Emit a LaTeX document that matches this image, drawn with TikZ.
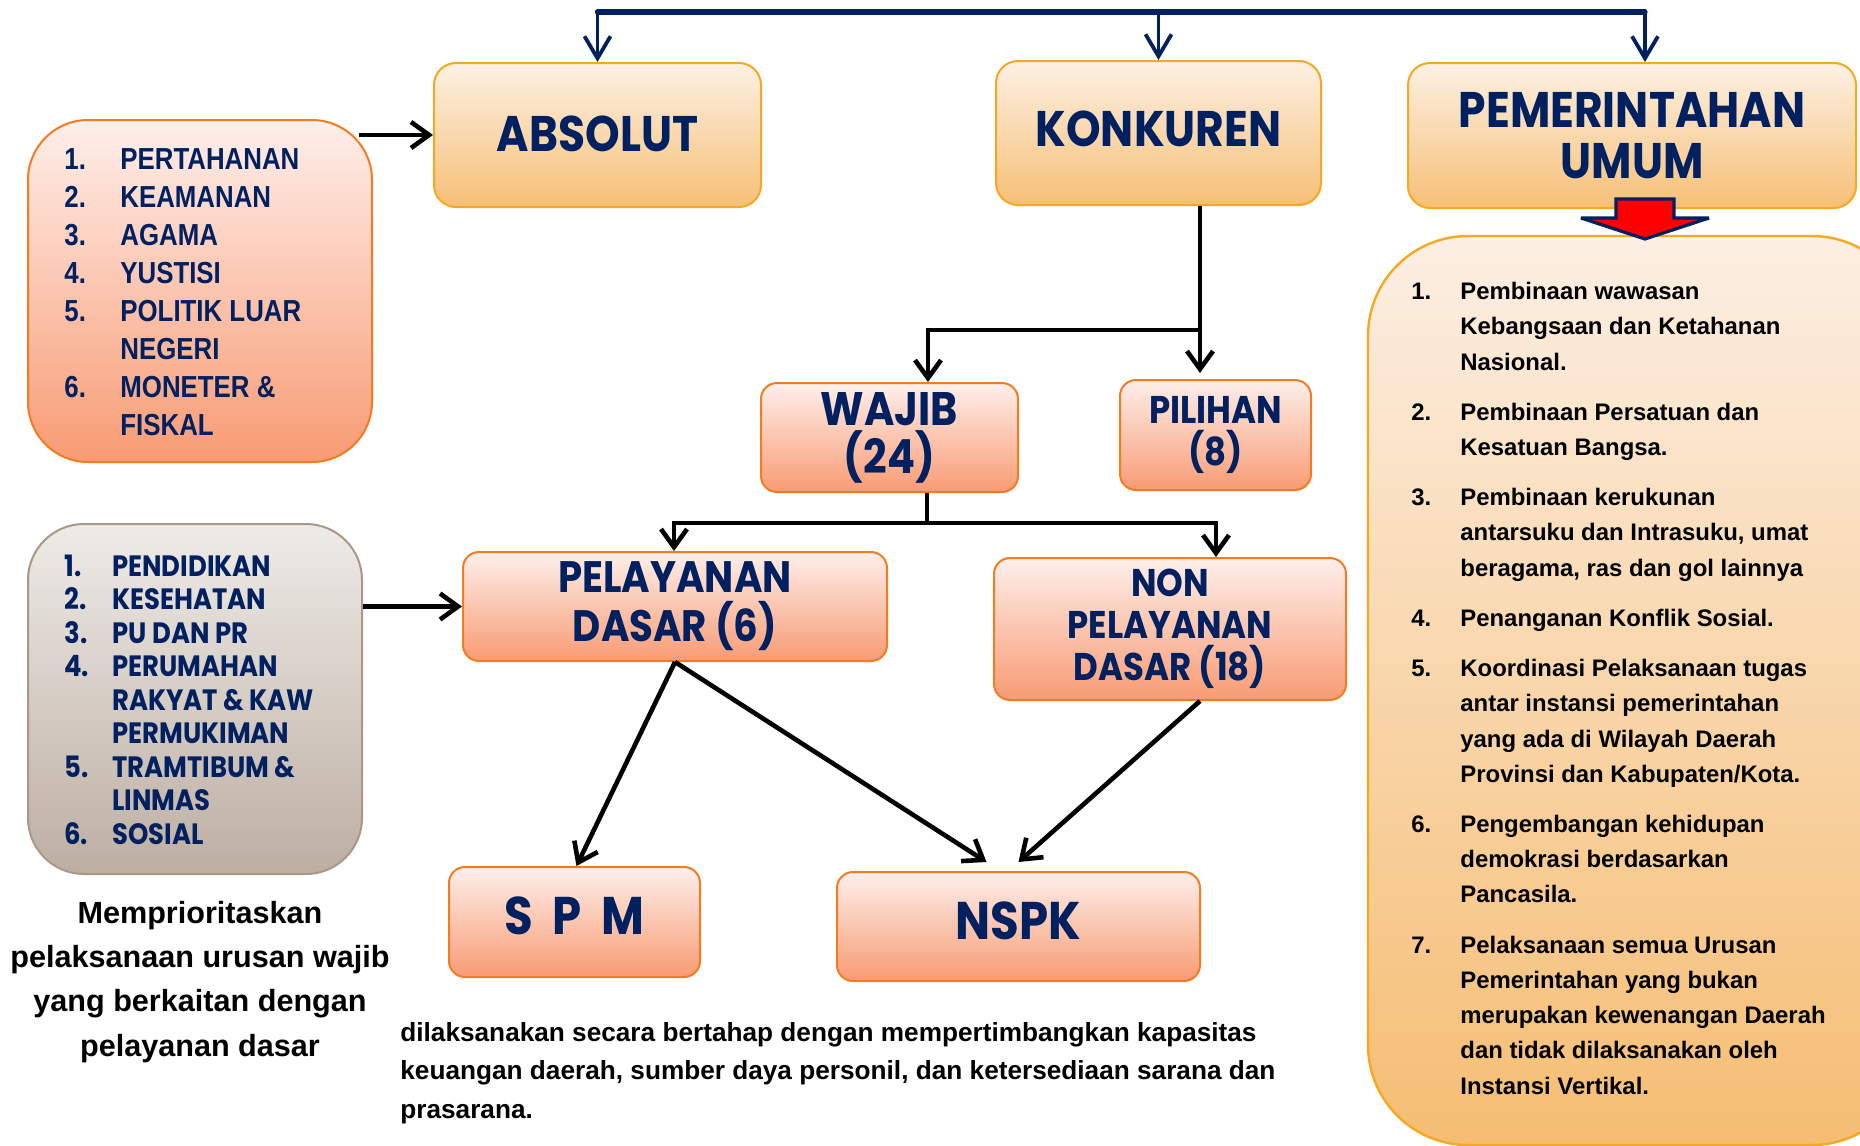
\documentclass[tikz,border=0pt]{standalone}
\usepackage{fontspec}
\setmainfont{Liberation Sans}
\newfontfamily\geo{Poppins}[FakeStretch=0.88]
\newfontfamily\narrowf{Liberation Sans}[FakeStretch=0.85]
\usetikzlibrary{arrows.meta}
\definecolor{navy}{HTML}{002060}
\definecolor{goldtop}{HTML}{FDF1E4}
\definecolor{goldbot}{HTML}{F6BF76}
\definecolor{goldline}{HTML}{F7A823}
\definecolor{saltop}{HTML}{FEEFEB}
\definecolor{salbot}{HTML}{F89B73}
\definecolor{salline}{HTML}{F47B20}
\definecolor{greytop}{HTML}{EEEBE7}
\definecolor{greybot}{HTML}{BDAEA2}
\definecolor{greyline}{HTML}{A99888}
\definecolor{bigtop}{HTML}{FCEFE3}
\definecolor{bigbot}{HTML}{F5BD72}
\definecolor{redfill}{HTML}{FF0000}
\tikzset{
  wh/.style 2 args={minimum width=#1*0.5pt, minimum height=#2*0.5pt, inner sep=0pt},
  goldbox/.style={draw=goldline, line width=1pt, rounded corners=11pt, top color=goldtop, bottom color=goldbot, text=navy, align=center},
  salbox/.style={draw=salline, line width=1pt, rounded corners=8pt, top color=saltop, bottom color=salbot, text=navy, align=center},
  greybox/.style={draw=greyline, line width=1pt, rounded corners=28pt, top color=greytop, bottom color=greybot},
  bigbox/.style={draw=goldline, line width=1.2pt, rounded corners=50pt, top color=bigtop, bottom color=bigbot},
  titlefont/.style={font=\geo\bfseries\fontsize{#1}{#1}\selectfont},
  blackarr/.style={draw=black, line width=2.3pt, -{Straight Barb[length=9pt,width=13pt]}},
  blackline/.style={draw=black, line width=2.3pt},
  navyarr/.style={draw=navy, line width=1.9pt, -{Straight Barb[length=11pt,width=13pt]}},
  listtext/.style={anchor=base west, inner sep=0pt},
}
\begin{document}
\begin{tikzpicture}[x=0.5pt,y=-0.5pt]
\useasboundingbox (0,0) rectangle (1860,1146);

% big right box (clipped at the page edge)
\begin{scope}
\clip (0,0) rectangle (1860,1146);
\node[bigbox, wh={544}{909}] (rightbox) at (1640,690.5) {};
\end{scope}

% top boxes
\node[goldbox, wh={327}{144}, titlefont=25, text depth=1pt] (absolut) at (597.5,135) {ABSOLUT};
\node[goldbox, wh={325}{144}, titlefont=25, text depth=4pt] (konkuren) at (1158.5,133) {KONKUREN};
\node[goldbox, wh={448}{145}, font=\geo\bfseries\fontsize{25}{25.5}\selectfont] (pem) at (1632,135.5) {PEMERINTAHAN\\UMUM};

% left lists
\node[salbox, rounded corners=30pt, wh={344}{342}] (leftlist) at (200,291) {};
\node[greybox, wh={334}{350}] (greylist) at (195,699) {};

% middle boxes
\node[salbox, wh={257}{109}, font=\geo\bfseries\fontsize{23.5}{24}\selectfont] (wajib) at (889.5,437.5) {WAJIB\\(24)};
\node[salbox, wh={191}{110}, font=\geo\bfseries\fontsize{19.3}{21}\selectfont] (pilihan) at (1215.5,435) {PILIHAN\\(8)};
\node[salbox, wh={424}{109}, font=\geo\bfseries\fontsize{22}{24.5}\selectfont] (pelayanan) at (675,606.5) {PELAYANAN\\DASAR (6)};
\node[salbox, wh={352}{142}, font=\geo\bfseries\fontsize{19.3}{21}\selectfont] (non) at (1170,629) {NON\\PELAYANAN\\DASAR (18)};
\node[salbox, wh={251}{110}, titlefont=26.5, text depth=6pt] (spm) at (574.5,922) {S\hspace{10pt}P\hspace{10pt}M};
\node[salbox, wh={363}{109}, titlefont=26.5, text depth=6pt] (nspk) at (1018.5,926.5) {NSPK};

% red arrow
\draw[navy, line width=1.6pt, fill=redfill, line join=miter, miter limit=3]
  (1616,199) -- (1674,199) -- (1674,218) -- (1709,218) -- (1645,239) -- (1581,218) -- (1616,218) -- cycle;

% top connector
\coordinate (tl) at (597.5,12);
\coordinate (tr) at (1645,12);
\draw[navy, line width=2.6pt, line cap=round] (tl) -- (tr);
\draw[navyarr] (tl) -- (absolut.north);
\draw[navyarr] (konkuren.north |- tl) -- (konkuren.north);
\draw[navyarr] (tr) -- (tr |- pem.north);

% konkuren -> wajib / pilihan
\coordinate (kj) at (1200,330);
\coordinate (wj) at (928,330);
\draw[blackarr] (kj |- konkuren.south) -- (kj) -- (wj) -- (wj |- wajib.north);
\draw[blackarr, shorten >=3pt] (kj) -- (kj |- pilihan.north);

% wajib -> pelayanan / non
\coordinate (ws) at (927,523);
\coordinate (pl) at (674,523);
\coordinate (nr) at (1216,523);
\draw[blackline] (ws |- wajib.south) -- (ws);
\draw[blackarr] (ws) -- (pl) -- (pl |- pelayanan.north);
\draw[blackarr] (ws) -- (nr) -- (nr |- non.north);

% side arrows
\draw[blackarr] ([xshift=-7pt]leftlist.east |- absolut.west) -- (absolut.west);
\draw[blackarr] (greylist.east |- pelayanan.west) -- (pelayanan.west);

% lower arrows
\draw[blackarr] (pelayanan.south) -- ([xshift=1pt]spm.north);
\draw[blackarr] (pelayanan.south) -- ([xshift=-16pt,yshift=4.5pt]nspk.north);
\draw[blackarr] ([xshift=15pt]non.south) -- ([yshift=4.5pt]nspk.north);

% left list text
\node[listtext, text=navy, font=\narrowf\bfseries\fontsize{15.2}{19}\selectfont] (lltext) at (64,169) {%
\begin{tabular}[t]{@{}p{28pt}@{}l@{}}
1. & PERTAHANAN\\
2. & KEAMANAN\\
3. & AGAMA\\
4. & YUSTISI\\
5. & POLITIK LUAR\\
   & NEGERI\\
6. & MONETER \&\\
   & FISKAL
\end{tabular}};

% grey list text
\node[listtext, text=navy, font=\geo\bfseries\fontsize{14.7}{16.75}\selectfont] (gltext) at (64,576) {%
\begin{tabular}[t]{@{}p{24pt}@{}l@{}}
1. & PENDIDIKAN\\
2. & KESEHATAN\\
3. & PU DAN PR\\
4. & PERUMAHAN\\
   & RAKYAT \& KAW\\
   & PERMUKIMAN\\
5. & TRAMTIBUM \&\\
   & LINMAS\\
6. & SOSIAL
\end{tabular}};

% right list text
\node[listtext, text=black, font=\bfseries\fontsize{11.95}{17.65}\selectfont] (rltext) at (1411,299.5) {%
\begin{tabular}[t]{@{}p{24.5pt}@{}l@{}}
1. & Pembinaan wawasan\\
   & Kebangsaan dan Ketahanan\\
   & Nasional.\\[7.4pt]
2. & Pembinaan Persatuan dan\\
   & Kesatuan Bangsa.\\[7.4pt]
3. & Pembinaan kerukunan\\
   & antarsuku dan Intrasuku, umat\\
   & beragama, ras dan gol lainnya\\[7.4pt]
4. & Penanganan Konflik Sosial.\\[7.4pt]
5. & Koordinasi Pelaksanaan tugas\\
   & antar instansi pemerintahan\\
   & yang ada di Wilayah Daerah\\
   & Provinsi dan Kabupaten/Kota.\\[7.4pt]
6. & Pengembangan kehidupan\\
   & demokrasi berdasarkan\\
   & Pancasila.\\[7.4pt]
7. & Pelaksanaan semua Urusan\\
   & Pemerintahan yang bukan\\
   & merupakan kewenangan Daerah\\
   & dan tidak dilaksanakan oleh\\
   & Instansi Vertikal.
\end{tabular}};

% bottom texts
\node[anchor=base, inner sep=0pt, font=\bfseries\fontsize{15.3}{22.2}\selectfont] (prio) at (200,923) {%
\begin{tabular}[t]{@{}c@{}}
Memprioritaskan\\
pelaksanaan urusan wajib\\
yang berkaitan dengan\\
pelayanan dasar
\end{tabular}};
\node[listtext, font=\bfseries\fontsize{13.1}{19.25}\selectfont, text=black] (note) at (400,1041) {%
\begin{tabular}[t]{@{}l@{}}
dilaksanakan secara bertahap dengan mempertimbangkan kapasitas\\
keuangan daerah, sumber daya personil, dan ketersediaan sarana dan\\
prasarana.
\end{tabular}};
\end{tikzpicture}
\end{document}
